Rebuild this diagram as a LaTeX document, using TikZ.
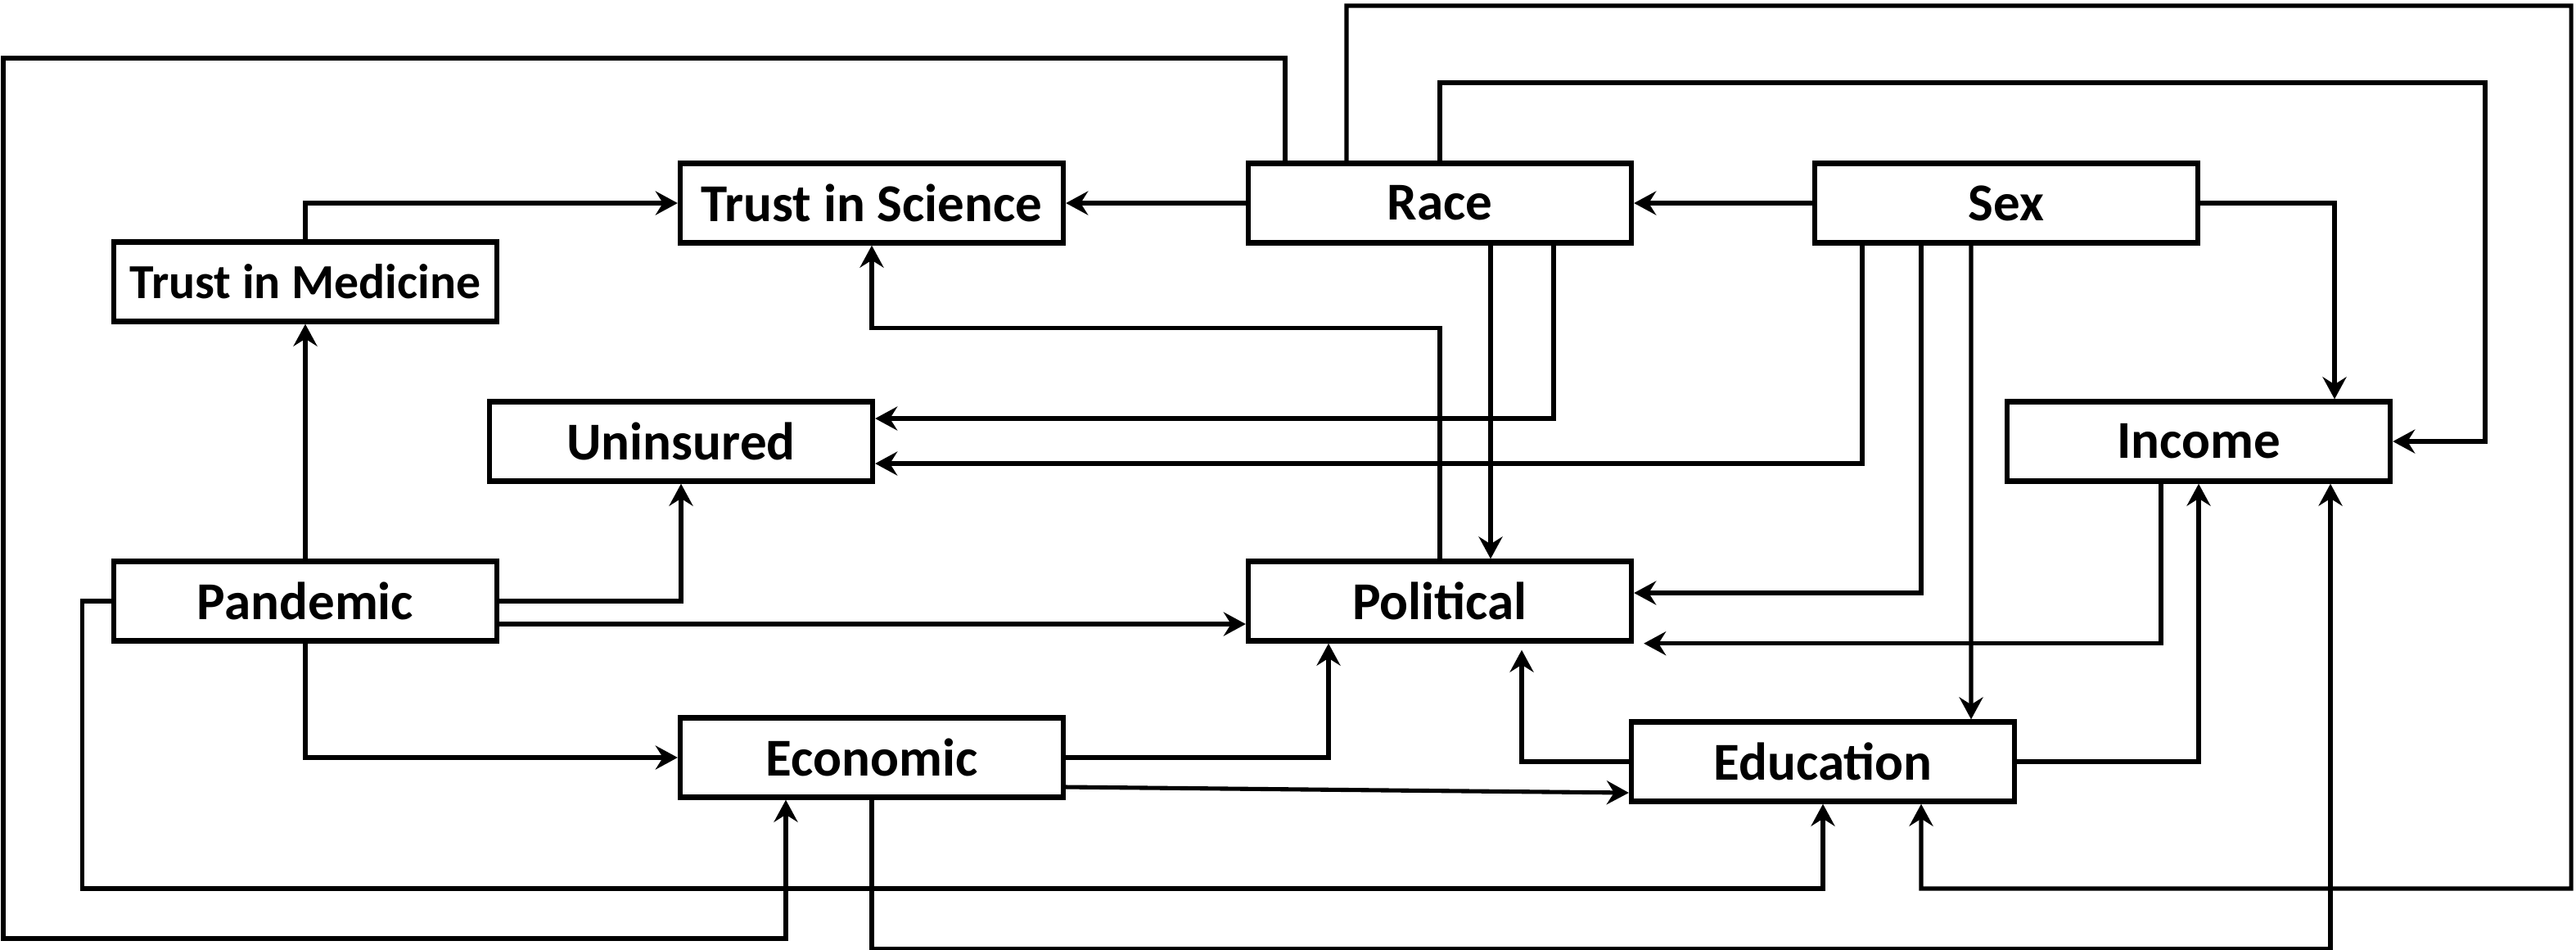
\documentclass[tikz,border=0pt]{standalone}
\usepackage{fontspec}
\setmainfont{Carlito}
\usetikzlibrary{arrows.meta}
\begin{document}
\begin{tikzpicture}[
box/.style={draw,line width=1.8pt,minimum width=4.68cm,minimum height=0.97cm,inner sep=0pt,font=\fontsize{18.5}{22}\selectfont\bfseries},
arr/.style={line width=1.45pt,-{Stealth[length=2.7mm,width=2.9mm,inset=0.9mm]}}]
\useasboundingbox (0,0) rectangle (31.47,-11.59);
\node[box] (tis) at (10.65,-2.48) {Trust in Science};
\node[box,font=\fontsize{17}{20}\selectfont\bfseries] (tim) at (3.73,-3.44) {Trust in Medicine};
\node[box] (unins) at (8.32,-5.39) {Uninsured};
\node[box] (pand) at (3.73,-7.34) {Pandemic};
\node[box] (econ) at (10.65,-9.25) {Economic};
\node[box] (race) at (17.59,-2.48) {Race};
\node[box] (sex) at (24.51,-2.48) {Sex};
\node[box] (income) at (26.86,-5.39) {Income};
\node[box] (polit) at (17.59,-7.34) {Political};
\node[box] (educ) at (22.27,-9.30) {Education};
\draw[arr] (tim.north) |- (tis.west);
\draw[arr] (race.west) -- (tis.east);
\draw[arr] (sex.west) -- (race.east);
\draw[arr] (pand.north) -- (tim.south);
\draw[arr] (pand.east) -| (unins.south);
\draw[arr] ([yshift=-2.8mm]pand.east) -- ([yshift=-2.8mm]polit.west);
\draw[arr] (pand.south) |- (econ.west);
\draw[arr] (pand.west) -- ++(-0.35,0) -- ++(0,-3.51) -| (educ.south);
\draw[arr] ([xshift=-18.9mm]race.north) |- (0.04,-0.71) -- (0.04,-11.46) -| ([xshift=-10.5mm]econ.south);
\draw[arr] ([xshift=6.2mm]race.south) -- ([xshift=6.2mm]polit.north);
\draw[arr] ([xshift=13.9mm]race.south) |- ([yshift=2.8mm]unins.east);
\draw[arr] ([xshift=-17.6mm]sex.south) |- ([yshift=-2.7mm]unins.east);
\draw[arr] ([xshift=-10.4mm]sex.south) |- ([yshift=1mm]polit.east);
\draw[arr] ([xshift=-4.3mm]sex.south) -- ([xshift=18.1mm]educ.north);
\draw[arr] (sex.east) -| ([xshift=16.6mm]income.north);
\draw[arr] (race.north) |- (30.36,-1.01) |- (income.east);
\draw[arr] ([xshift=-11.4mm]race.north) |- (31.41,-0.07) |- (23.47,-10.85) -- ([xshift=12mm]educ.south);
\draw[arr] (polit.north) -- ++(0,2.82) -| (tis.south);
\draw[arr] (econ.east) -| ([xshift=-13.6mm]polit.south);
\draw[arr] ([yshift=-3.6mm]econ.east) -- ([yshift=-3.8mm]educ.west);
\draw[arr] (econ.south) -- ++(0,-1.815) -| ([xshift=16.1mm]income.south);
\draw[arr] (educ.west) -| ([xshift=10mm,yshift=-0.8mm]polit.south);
\draw[arr] (educ.east) -| (income.south);
\draw[arr] ([xshift=-4.6mm]income.south) |- ([xshift=1.2mm]polit.south east);
\end{tikzpicture}
\end{document}
